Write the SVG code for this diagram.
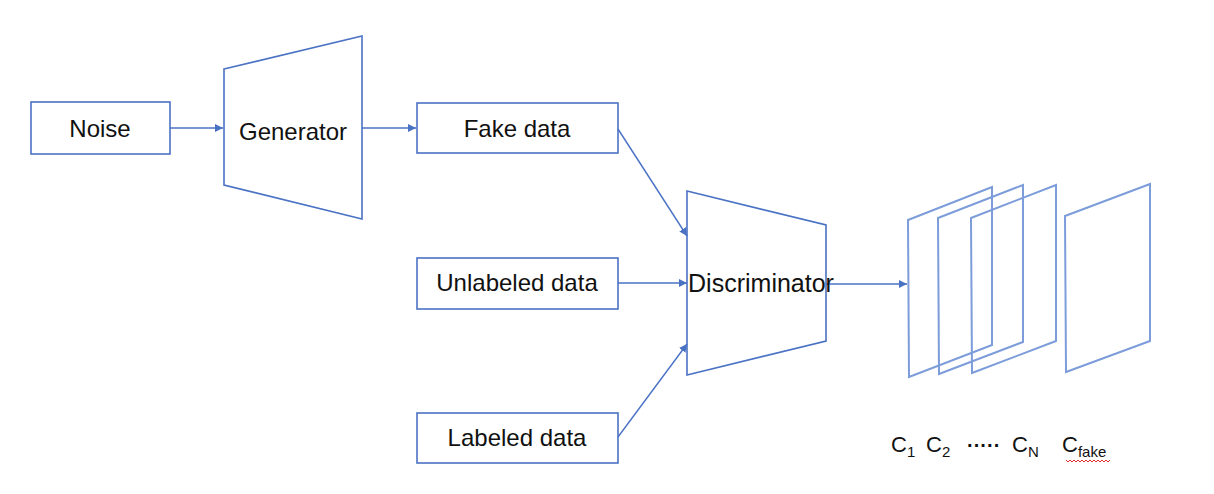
<svg xmlns="http://www.w3.org/2000/svg" width="1214" height="494" viewBox="0 0 1214 494">
<defs>
<style>
.box{fill:#fff;stroke:#4A72C4;stroke-width:1.6}
.trap{fill:#fff;stroke:#4A72C4;stroke-width:1.6}
.panel{fill:none;stroke:#7C9CDA;stroke-width:2}
.conn{fill:none;stroke:#4A72C4;stroke-width:1.4}
.lbl{font-family:"Liberation Sans",Arial,sans-serif;font-size:24px;fill:#111;text-anchor:middle}
.cl{font-family:"Liberation Sans",Arial,sans-serif;font-size:22px;fill:#111}
.sub{font-size:15px}
</style>
<marker id="ah" viewBox="0 0 10 10" refX="10" refY="5" markerWidth="8" markerHeight="8" markerUnits="userSpaceOnUse" orient="auto">
<path d="M0,0 L10,5 L0,10 z" fill="#4A72C4"/>
</marker>
</defs>
<rect width="1214" height="494" fill="#fff"/>
<g id="noise"><rect class="box" x="31" y="102" width="139" height="52"/><text class="lbl" x="100" y="137">Noise</text></g>
<g id="generator"><polygon class="trap" points="224,69 362,36 362,219 224,185"/><text class="lbl" x="293" y="140">Generator</text></g>
<g id="fake"><rect class="box" x="417" y="103" width="201" height="50"/><text class="lbl" x="517" y="137">Fake data</text></g>
<g id="unlabeled"><rect class="box" x="417" y="258" width="201" height="51"/><text class="lbl" x="517" y="291">Unlabeled data</text></g>
<g id="labeled"><rect class="box" x="417" y="413" width="201" height="50"/><text class="lbl" x="517" y="446">Labeled data</text></g>
<g id="discriminator"><polygon class="trap" points="687,191 826,225 826,341 687,375"/></g>
<g id="connectors">
<line class="conn" x1="170" y1="128" x2="223" y2="128" marker-end="url(#ah)"/>
<line class="conn" x1="362" y1="128" x2="416" y2="128" marker-end="url(#ah)"/>
<line class="conn" x1="618" y1="129" x2="687" y2="236" marker-end="url(#ah)"/>
<line class="conn" x1="618" y1="283" x2="687" y2="283" marker-end="url(#ah)"/>
<line class="conn" x1="618" y1="437" x2="687" y2="344" marker-end="url(#ah)"/>
<line class="conn" x1="826" y1="284" x2="907" y2="284" marker-end="url(#ah)"/>
</g>
<g id="discriminator-label"><text class="lbl" x="761" y="292" style="font-size:25px">Discriminator</text></g>
<g id="outputs">
<polygon class="panel" points="908,220 992,187 992,345 909,377"/>
<polygon class="panel" points="938,218 1023,185 1023,342 939,374"/>
<polygon class="panel" points="971,218 1056,185 1056,341 972,373"/>
<polygon class="panel" points="1065,216 1150,184 1150,341 1066,372"/>
</g>
<g id="class-labels">
<text class="cl" x="891" y="452">C<tspan class="sub" dy="5">1</tspan></text>
<text class="cl" x="926" y="452">C<tspan class="sub" dy="5">2</tspan></text>
<text class="cl" x="967" y="452" style="font-size:20px;font-weight:bold">·····</text>
<text class="cl" x="1012" y="452">C<tspan class="sub" dy="5">N</tspan></text>
<text class="cl" x="1062" y="452">C<tspan class="sub" dy="5">fake</tspan></text>
<path d="M1066,460 l2,2 2,-2 2,2 2,-2 2,2 2,-2 2,2 2,-2 2,2 2,-2 2,2 2,-2 2,2 2,-2 2,2 2,-2 2,2 2,-2 2,2 2,-2 2,2 2,-2" fill="none" stroke="#E03030" stroke-width="1"/>
</g>
</svg>
